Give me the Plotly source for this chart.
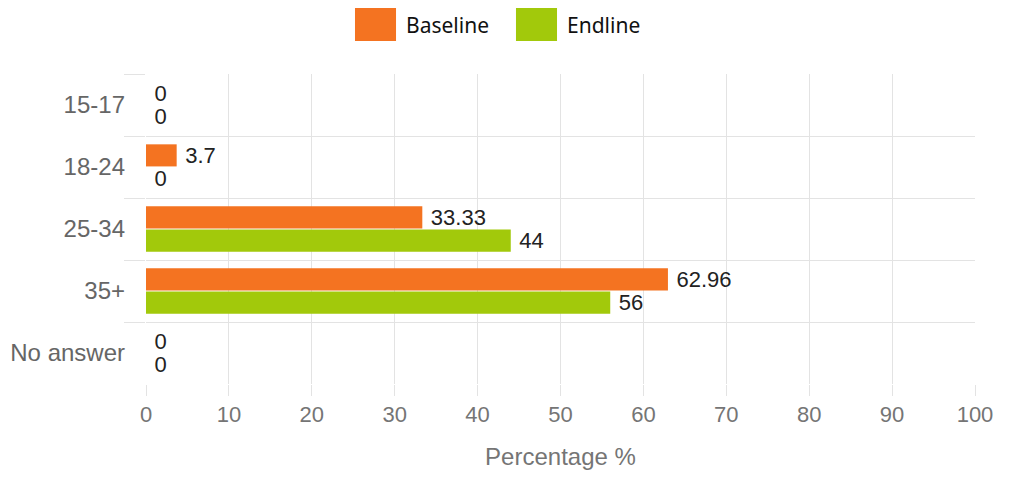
import plotly.graph_objects as go

categories = ["15-17", "18-24", "25-34", "35+", "No answer"]
baseline = [0, 3.7, 33.33, 62.96, 0]
endline = [0, 0, 44, 56, 0]
series_names = ["Baseline", "Endline"]
colors = ["#F47321", "#A2C90B"]
x_ticks = list(range(0, 101, 10))

fig = go.Figure()
for name, vals, col in zip(series_names, [baseline, endline], colors):
    fig.add_trace(go.Bar(
        y=categories, x=vals, name=name, orientation="h",
        marker=dict(color=col, line=dict(width=0)),
        text=[f"{v:g}" for v in vals], textposition="outside",
        texttemplate="\u2005%{text}", constraintext="none",
        textfont=dict(family="Liberation Sans, Arial", size=22, color="#222222"),
        cliponaxis=False, showlegend=False,
    ))

# legend drawn manually (large swatches above the plot area)
leg_x = [0.2521, 0.4463]
for i, (name, col) in enumerate(zip(series_names, colors)):
    fig.add_shape(type="rect", xref="paper", yref="paper",
                  x0=leg_x[i], x1=leg_x[i] + 0.0495, y0=1.1065, y1=1.2129,
                  fillcolor=col, line=dict(width=0))
    fig.add_annotation(xref="paper", yref="paper", x=leg_x[i] + 0.059, y=1.158,
                       text=name, showarrow=False, xanchor="left", yanchor="middle",
                       font=dict(family="Noto Sans, Open Sans", size=21, color="#111111"))

fig.update_layout(
    width=1011, height=477,
    margin=dict(l=146, r=36, t=74, b=93),
    paper_bgcolor="white", plot_bgcolor="white",
    barmode="group", bargap=0.25, bargroupgap=0.05,
    font=dict(family="Liberation Sans, Arial", size=23, color="#666666"),
    xaxis=dict(range=[0, 100], tickvals=x_ticks, showgrid=True, gridcolor="#e3e3e3",
               gridwidth=1, zeroline=False, showline=False, automargin=False,
               ticks="outside", ticklen=11, tickcolor="#e3e3e3",
               tickfont=dict(size=22, color="#757575"),
               title=dict(text="Percentage %", font=dict(size=24, color="#757575"), standoff=21)),
    yaxis=dict(autorange="reversed", tickson="boundaries", showgrid=True,
               gridcolor="#e3e3e3", gridwidth=1, ticks="outside", ticklen=21,
               tickcolor="#e3e3e3", showline=False, zeroline=False, automargin=False,
               ticklabelstandoff=20,
               tickfont=dict(size=24, color="#666666")),
)

fig.write_html("out.html")
